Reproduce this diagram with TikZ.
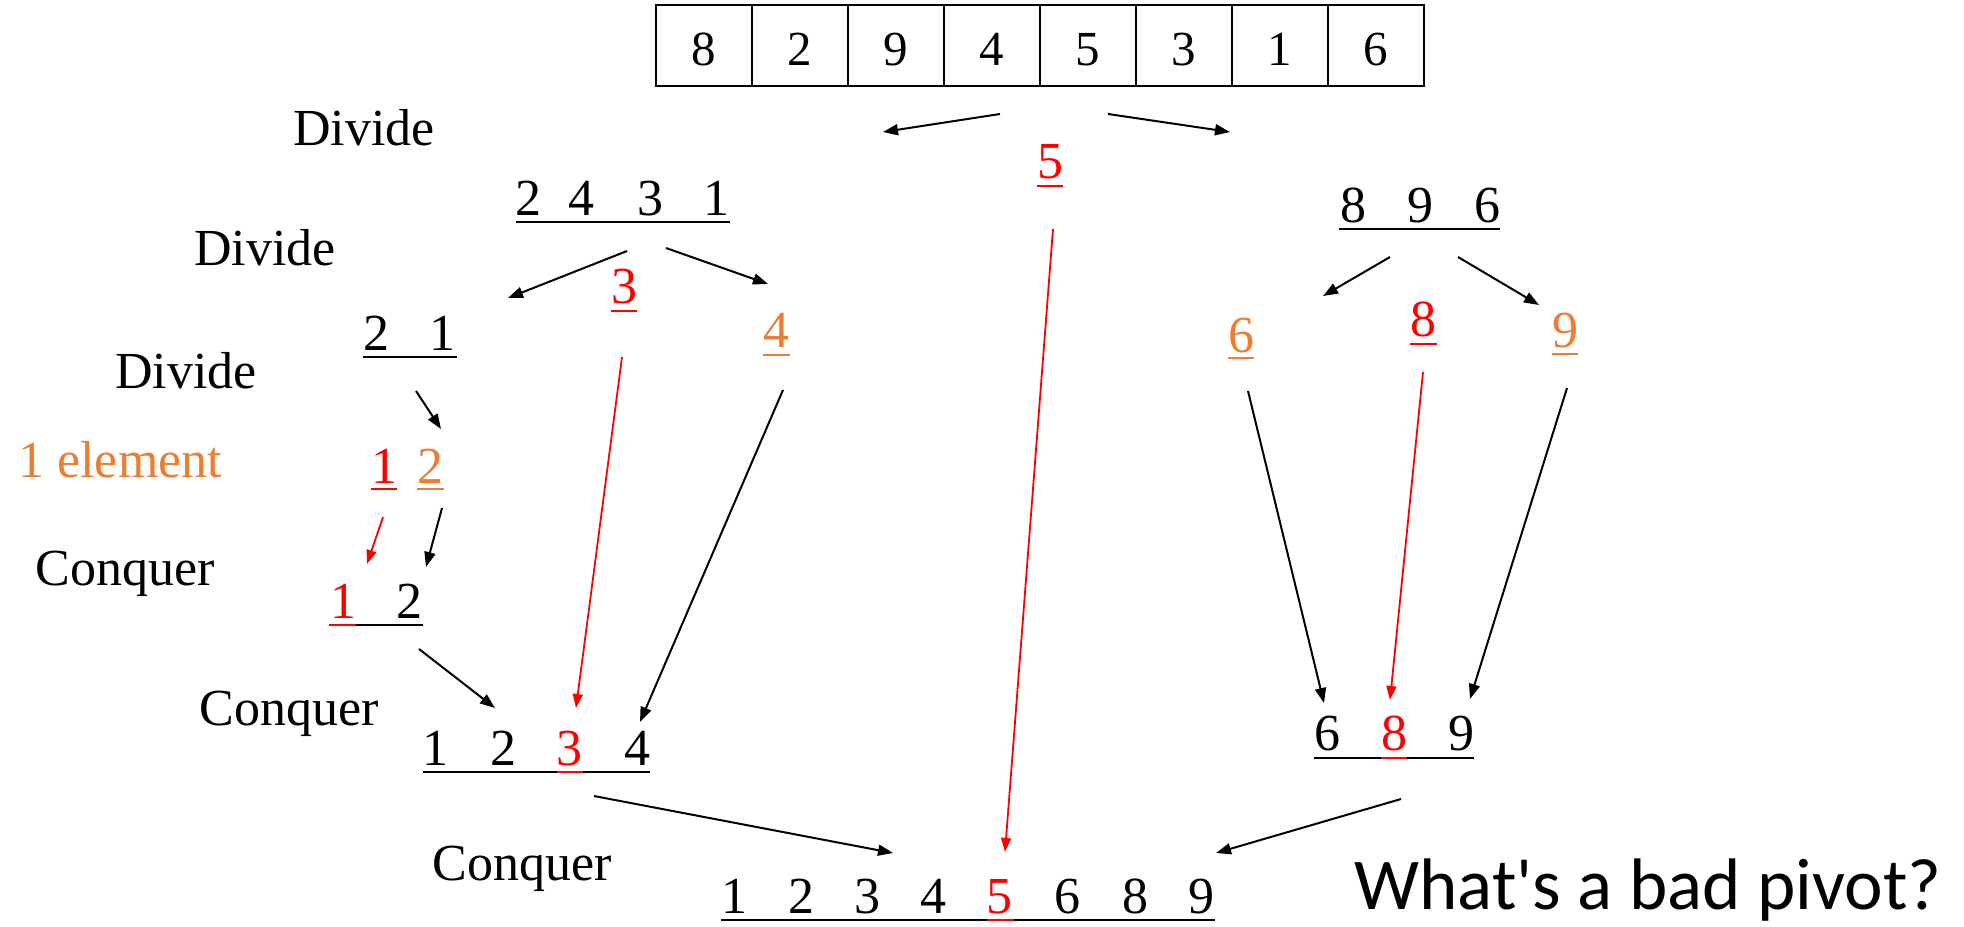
\documentclass[tikz,border=0pt]{standalone}
\usepackage{fontspec}
\setmainfont{Liberation Serif}
\newfontfamily\calib{Carlito}
\usetikzlibrary{arrows.meta}
\definecolor{myorange}{HTML}{ED7D31}
\definecolor{myred}{HTML}{FF0000}
\begin{document}
\begin{tikzpicture}[x=0.5pt,y=-0.5pt,
  num/.style={anchor=base, inner sep=0pt, font=\fontsize{26}{30}\selectfont},
  lbl/.style={anchor=base west, inner sep=0pt, font=\fontsize{26}{30}\selectfont},
  cell/.style={draw, line width=0.8pt, minimum width=48pt, minimum height=40.5pt,
    inner sep=0pt, text height=19.5pt, text depth=0pt, font=\fontsize{24.5}{28}\selectfont},
  ar/.style={-{Triangle[length=7.5pt,width=5.5pt]}, line width=1pt},
  rar/.style={-{Triangle[length=7pt,width=5pt]}, line width=0.9pt, myred},
  ul/.style={line width=1.2pt}
]
\useasboundingbox (0,0) rectangle (1964,926);

% top array
\foreach \d [count=\i] in {8,2,9,4,5,3,1,6}
  \node[cell] (c\i) at ({656+96*(\i-0.5)},45.5) {\d};

% labels
\node[lbl] (dv1) at (293,145) {Divide};
\node[lbl] (dv2) at (194,265) {Divide};
\node[lbl] (dv3) at (115,388) {Divide};
\node[lbl,text=myorange] (onee) at (18,477) {1 element};
\node[lbl] (cq1) at (35,585) {Conquer};
\node[lbl] (cq2) at (199,725) {Conquer};
\node[lbl] (cq3) at (432,880) {Conquer};
\node[anchor=base west, inner sep=0pt, font=\calib\fontsize{36.5}{44}\selectfont] (q) at (1354,909) {What's a bad pivot?};

% pivot 5
\node[num,text=myred] (p5) at (1050,178) {5};
\draw[ul,myred] (1037,186) -- (1063,186);

% 2 4 3 1
\foreach \d/\x [count=\i] in {2/528,4/581,3/650,1/716}
  \node[num] (ra\i) at (\x,215) {\d};
\draw[ul] (516,222) -- (730,222);

% 8 9 6
\foreach \d/\x [count=\i] in {8/1353,9/1420,6/1487}
  \node[num] (rb\i) at (\x,222) {\d};
\draw[ul] (1339,229) -- (1500,229);

% 3 (red) and 4 (orange)
\node[num,text=myred] (p3) at (624,303) {3};
\draw[ul,myred] (611,311) -- (637,311);
\node[num,text=myorange] (s4) at (776,347) {4};
\draw[ul,myorange] (763,355) -- (790,355);

% 6 (orange), 8 (red), 9 (orange)
\node[num,text=myorange] (s6) at (1241,352) {6};
\draw[ul,myorange] (1228,358) -- (1254,358);
\node[num,text=myred] (p8) at (1423,336) {8};
\draw[ul,myred] (1410,344) -- (1437,344);
\node[num,text=myorange] (s9) at (1565,347) {9};
\draw[ul,myorange] (1552,354) -- (1578,354);

% 2 1
\node[num] (rc1) at (376,350) {2};
\node[num] (rc2) at (442,350) {1};
\draw[ul] (363,357) -- (457,357);

% 1 (red) 2 (orange)
\node[num,text=myred] (p1) at (384,483) {1};
\draw[ul,myred] (371,489) -- (397,489);
\node[num,text=myorange] (s2) at (430,483) {2};
\draw[ul,myorange] (417,489) -- (444,489);

% 1 2 conquered
\node[num,text=myred] (rd1) at (343,618) {1};
\node[num] (rd2) at (409,618) {2};
\draw[ul] (329,625) -- (423,625);
\draw[ul,myred] (329,625) -- (356,625);

% 1 2 3 4
\foreach \d/\x/\c [count=\i] in {1/435/black,2/503/black,3/569/myred,4/637/black}
  \node[num,text=\c] (re\i) at (\x,765) {\d};
\draw[ul] (423,772) -- (650,772);
\draw[ul,myred] (557,772) -- (583,772);

% 6 8 9
\foreach \d/\x/\c [count=\i] in {6/1327/black,8/1394/myred,9/1461/black}
  \node[num,text=\c] (rf\i) at (\x,750) {\d};
\draw[ul] (1314,758) -- (1474,758);
\draw[ul,myred] (1381,758) -- (1407,758);

% final
\foreach \d/\x/\c [count=\i] in {1/734/black,2/801/black,3/867/black,4/933/black,5/999/myred,6/1067/black,8/1135/black,9/1201/black}
  \node[num,text=\c] (rg\i) at (\x,913) {\d};
\draw[ul] (721,920) -- (1215,920);
\draw[ul,myred] (987,920) -- (1014,920);

% arrow end points
\coordinate (a1s) at (1000,114); \coordinate (a1e) at (883,132);
\coordinate (a2s) at (1108,114); \coordinate (a2e) at (1230,132);
\coordinate (a3s) at (627,251);  \coordinate (a3e) at (508,298);
\coordinate (a4s) at (666,248);  \coordinate (a4e) at (768,284);
\coordinate (a5s) at (1390,257); \coordinate (a5e) at (1323,296);
\coordinate (a6s) at (1458,257); \coordinate (a6e) at (1539,305);
\coordinate (a7s) at (416,391);  \coordinate (a7e) at (441,429);
\coordinate (a8s) at (383,517);  \coordinate (a8e) at (367,564);
\coordinate (a9s) at (442,508);  \coordinate (a9e) at (426,567);
\coordinate (a10s) at (419,649); \coordinate (a10e) at (495,708);
\coordinate (a11s) at (622,357); \coordinate (a11e) at (576,708);
\coordinate (a12s) at (783,390); \coordinate (a12e) at (640,722);
\coordinate (a13s) at (1053,229); \coordinate (a13e) at (1005,852);
\coordinate (a14s) at (1248,391); \coordinate (a14e) at (1324,703);
\coordinate (a15s) at (1423,372); \coordinate (a15e) at (1390,700);
\coordinate (a16s) at (1567,388); \coordinate (a16e) at (1470,699);
\coordinate (a17s) at (594,796); \coordinate (a17e) at (893,853);
\coordinate (a18s) at (1401,799); \coordinate (a18e) at (1216,853);

\draw[ar] (a1s) -- (a1e);
\draw[ar] (a2s) -- (a2e);
\draw[ar] (a3s) -- (a3e);
\draw[ar] (a4s) -- (a4e);
\draw[ar] (a5s) -- (a5e);
\draw[ar] (a6s) -- (a6e);
\draw[ar] (a7s) -- (a7e);
\draw[rar] (a8s) -- (a8e);
\draw[ar] (a9s) -- (a9e);
\draw[ar] (a10s) -- (a10e);
\draw[rar] (a11s) -- (a11e);
\draw[ar] (a12s) -- (a12e);
\draw[rar] (a13s) -- (a13e);
\draw[ar] (a14s) -- (a14e);
\draw[rar] (a15s) -- (a15e);
\draw[ar] (a16s) -- (a16e);
\draw[ar] (a17s) -- (a17e);
\draw[ar] (a18s) -- (a18e);
\end{tikzpicture}
\end{document}
